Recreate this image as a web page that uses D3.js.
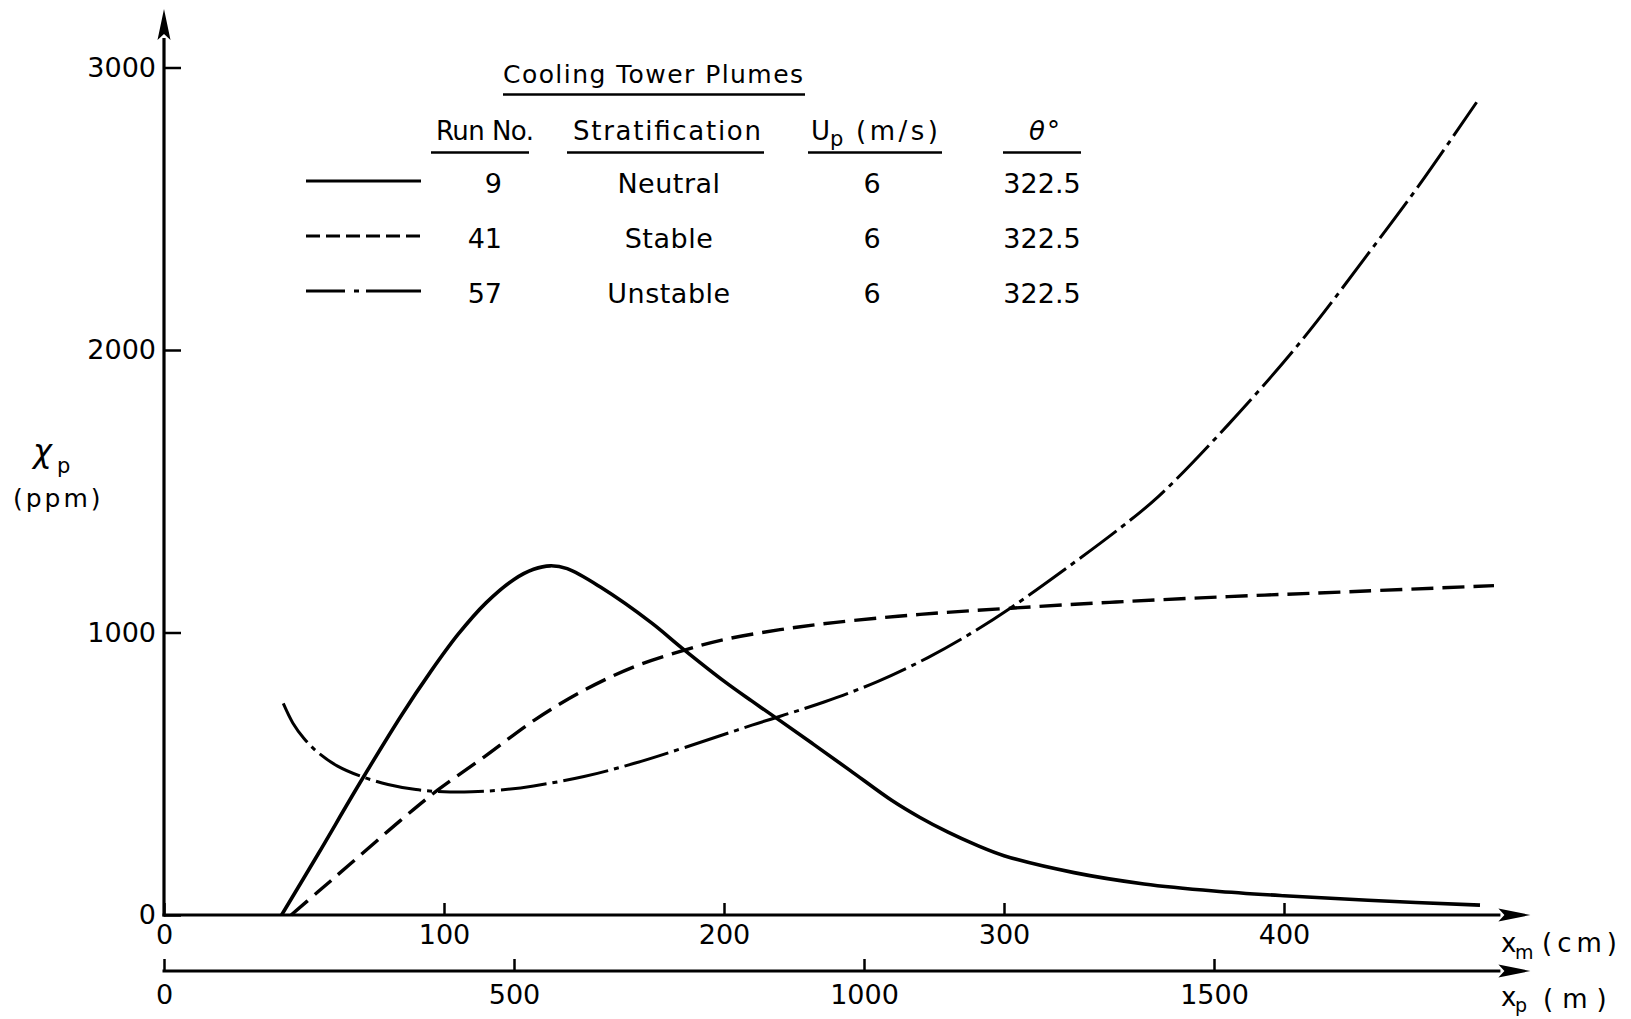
<!DOCTYPE html>
<html><head><meta charset="utf-8">
<script src="https://cdn.jsdelivr.net/npm/d3@7"></script>
<style>
body{margin:0;background:#fff}
svg{display:block}
text{font-family:"DejaVu Sans",sans-serif;fill:#000}
</style>
</head><body>
<svg id="chart" width="1631" height="1019"></svg>
<script>
// ---------- data (x in cm model scale, y in ppm) ----------
const neutralCm  = [42,55,70,85,95,105,115,125,132,138,144,156,174,185,200,210,220,232,245,260,270,280,290,300,325,350,375,400,430,470];
const neutralPpm = [0,215,468,710,858,993,1105,1188,1224,1236,1226,1160,1035,945,828,757,688,604,512,405,345,293,248,210,150,110,85,68,52,35];

const stableCm  = [45.4,55,66.8,84.6,97.7,114.4,132.3,150.1,168,185,200,220,240,270,302.5,340,380,420,475];
const stablePpm = [0,82,183,336,442,560,690,796,879,935,975,1010,1036,1064,1086,1108,1127,1143,1166];

const unstableCm  = [42.6,46,50,55,62,70,80,90,100,110,120,132,150,168,186,210,236,255,273,288,302.5,324,341.5,355,380,406,430,448,468.8];
const unstablePpm = [749,680,625,575,527,492,462,444,436,436,442,457,490,537,593,672,755,827,912,996,1088,1240,1370,1480,1735,2030,2340,2580,2877];

const yTicks  = [0,1000,2000,3000];
const xmTicks = [0,100,200,300,400];
const xpTicks = [0,500,1000,1500];

const legendTitle = "Cooling Tower Plumes";
const runNos = ["9","41","57"];
const stratifications = ["Neutral","Stable","Unstable"];
const windSpeeds = ["6","6","6"];
const angles = ["322.5","322.5","322.5"];

// ---------- scales ----------
const svg = d3.select("#chart");
const x  = d3.scaleLinear().domain([0,500]).range([164,1564]);
const xp = d3.scaleLinear().domain([0,2000]).range([164,1564]);
const y  = d3.scaleLinear().domain([0,3000]).range([915,67.5]);
const yAxisY2 = 971;

// ---------- axes ----------
function styleAxis(g, fs){
  g.select(".domain").remove();
  g.selectAll(".tick line").attr("stroke","#000").attr("stroke-width",2.5);
  g.selectAll(".tick text").attr("font-family","DejaVu Sans, sans-serif").attr("font-size",fs).attr("fill","#000");
}

const gy = svg.append("g").attr("transform",`translate(${x(0)},0)`)
  .call(d3.axisLeft(y).tickValues(yTicks).tickSizeInner(-17).tickSizeOuter(0).tickPadding(8).tickFormat(d3.format("d")));
styleAxis(gy,27);

const gx = svg.append("g").attr("transform",`translate(0,${y(0)})`)
  .call(d3.axisBottom(x).tickValues(xmTicks).tickSizeInner(-12).tickSizeOuter(0).tickPadding(10).tickFormat(d3.format("d")));
styleAxis(gx,27);

const gx2 = svg.append("g").attr("transform",`translate(0,${yAxisY2})`)
  .call(d3.axisBottom(xp).tickValues(xpTicks).tickSizeInner(-12).tickSizeOuter(0).tickPadding(14).tickFormat(d3.format("d")));
styleAxis(gx2,27);

// axis lines with arrows
function hArrow(yy, x0, tip){
  const L=32, W=6.5;
  svg.append("line").attr("x1",x0).attr("x2",tip-L+2).attr("y1",yy).attr("y2",yy)
    .attr("stroke","#000").attr("stroke-width",3.2);
  svg.append("path").attr("d",`M${tip},${yy} L${tip-L},${yy-W} L${tip-L+6},${yy} L${tip-L},${yy+W} Z`).attr("fill","#000");
}
hArrow(y(0), x(0)-1.5, x(488));
hArrow(yAxisY2, xp(0)-1.5, xp(1952));
{
  const tip=y(3207), L=31, W=6.5, xx=x(0);
  svg.append("line").attr("x1",xx).attr("x2",xx).attr("y1",y(0)+1.5).attr("y2",tip+L-2)
    .attr("stroke","#000").attr("stroke-width",3.2);
  svg.append("path").attr("d",`M${xx},${tip} L${xx-W},${tip+L} L${xx},${tip+L-6} L${xx+W},${tip+L} Z`).attr("fill","#000");
}

// ---------- curves ----------
const line = d3.line().x(d=>x(d[0])).y(d=>y(d[1])).curve(d3.curveCatmullRom.alpha(0.5));
const series = [
  {cm:neutralCm, ppm:neutralPpm, dash:null, w:3.6, legendDash:null},
  {cm:stableCm, ppm:stablePpm, dash:"22,9", w:3.4, legendDash:"14,6"},
  {cm:unstableCm, ppm:unstablePpm, dash:"46,6,5,6", w:3.0, legendDash:"39,9,5,7,80"}
];
series.forEach(s=>{
  const pts = s.cm.map((c,i)=>[c,s.ppm[i]]);
  svg.append("path").attr("d",line(pts)).attr("fill","none").attr("stroke","#000")
    .attr("stroke-width",s.w).attr("stroke-dasharray",s.dash).attr("stroke-linejoin","round");
});

// ---------- legend ----------
const lg = svg.append("g");
function uline(x1,x2,yy){ lg.append("line").attr("x1",x1).attr("x2",x2).attr("y1",yy).attr("y2",yy).attr("stroke","#000").attr("stroke-width",2.5); }

lg.append("text").attr("x",503).attr("y",83).attr("font-size",25).attr("textLength",300).attr("lengthAdjust","spacing").text(legendTitle);
uline(503,805,94.5);

lg.append("text").attr("x",436).attr("y",140).attr("font-size",26).attr("textLength",98).attr("lengthAdjust","spacing").text("Run No.");
uline(431,529,152.5);
lg.append("text").attr("x",573).attr("y",140).attr("font-size",26).attr("textLength",188).attr("lengthAdjust","spacing").text("Stratification");
uline(567,764,152.5);
lg.append("text").attr("x",811).attr("y",140).attr("font-size",26).text("U");
lg.append("text").attr("x",830).attr("y",146).attr("font-size",21).text("p");
lg.append("text").attr("x",856).attr("y",140).attr("font-size",26).attr("textLength",82).attr("lengthAdjust","spacing").text("(m/s)");
uline(808,942,152.5);
lg.append("text").attr("x",1029).attr("y",140).attr("font-size",26).attr("font-style","italic").text("θ");
lg.append("text").attr("x",1047).attr("y",140).attr("font-size",26).text("°");
uline(1003,1081,152.5);

const rowY = [193,248,303];
const sampleY = [181,236,291];
series.forEach((s,i)=>{
  lg.append("line").attr("x1",306).attr("x2",421).attr("y1",sampleY[i]).attr("y2",sampleY[i])
    .attr("stroke","#000").attr("stroke-width",3.2).attr("stroke-dasharray",s.legendDash);
  lg.append("text").attr("x",502).attr("y",rowY[i]).attr("font-size",27).attr("text-anchor","end").text(runNos[i]);
  lg.append("text").attr("x",669).attr("y",rowY[i]).attr("font-size",27).attr("text-anchor","middle").attr("letter-spacing",0.5).text(stratifications[i]);
  lg.append("text").attr("x",872).attr("y",rowY[i]).attr("font-size",27).attr("text-anchor","middle").text(windSpeeds[i]);
  lg.append("text").attr("x",1042).attr("y",rowY[i]).attr("font-size",27).attr("text-anchor","middle").text(angles[i]);
});

// ---------- axis titles ----------
svg.append("text").attr("x",33).attr("y",462).attr("font-size",32).attr("font-style","italic").text("χ");
svg.append("text").attr("x",57).attr("y",473).attr("font-size",21).text("p");
svg.append("text").attr("x",13).attr("y",507).attr("font-size",25).attr("letter-spacing",3).text("(ppm)");

svg.append("text").attr("x",1501).attr("y",952).attr("font-size",26).text("x");
svg.append("text").attr("x",1515).attr("y",959).attr("font-size",19).text("m");
svg.append("text").attr("x",1542).attr("y",952).attr("font-size",26).attr("letter-spacing",5).text("(cm)");

svg.append("text").attr("x",1501).attr("y",1006).attr("font-size",26).text("x");
svg.append("text").attr("x",1515).attr("y",1012).attr("font-size",19).text("p");
svg.append("text").attr("x",1543).attr("y",1008).attr("font-size",26).attr("letter-spacing",9).text("(m)");
</script>
</body></html>
